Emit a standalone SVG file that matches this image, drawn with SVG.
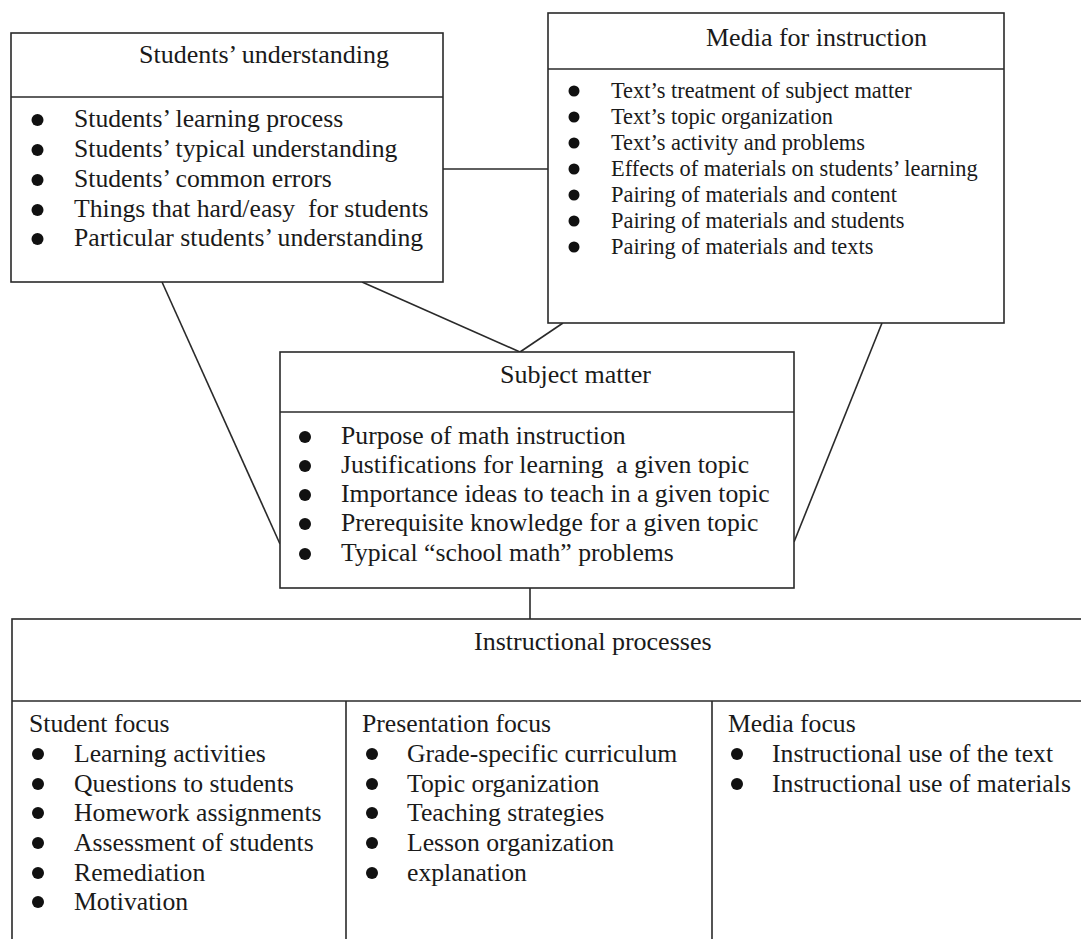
<svg xmlns="http://www.w3.org/2000/svg" width="1081" height="939" viewBox="0 0 1081 939">
<style>
.box{fill:#fff;stroke:#2a2a2a;stroke-width:1.6}
.ln{stroke:#2a2a2a;stroke-width:1.6;fill:none}
.t{font-family:"Liberation Serif","Times New Roman",serif;font-size:25.7px;fill:#1a1a1a}
.h{font-family:"Liberation Serif","Times New Roman",serif;font-size:26px;fill:#1a1a1a}
.s{font-family:"Liberation Serif","Times New Roman",serif;font-size:22.4px;fill:#1a1a1a}
.b{fill:#111}
</style>
<rect width="1081" height="939" fill="#fff"/>
<g id="connectors">
<line class="ln" x1="443" y1="169" x2="548" y2="169"/>
<line class="ln" x1="162" y1="282" x2="280" y2="544"/>
<line class="ln" x1="362" y1="282" x2="520" y2="352"/>
<line class="ln" x1="563" y1="323" x2="520" y2="352"/>
<line class="ln" x1="882" y1="323" x2="794" y2="542"/>
<line class="ln" x1="530" y1="588" x2="530" y2="619"/>
</g>
<g id="node-students-understanding">
<rect class="box" x="11" y="33" width="432" height="249"/>
<line class="ln" x1="11" y1="97" x2="443" y2="97"/>
<text class="h" x="139" y="63">Students’ understanding</text>
<circle class="b" cx="37.5" cy="120" r="6"/>
<circle class="b" cx="37.5" cy="150" r="6"/>
<circle class="b" cx="37.5" cy="180" r="6"/>
<circle class="b" cx="37.5" cy="210" r="6"/>
<circle class="b" cx="37.5" cy="239" r="6"/>
<text class="t" x="74" y="127">Students’ learning process</text>
<text class="t" x="74" y="157">Students’ typical understanding</text>
<text class="t" x="74" y="187">Students’ common errors</text>
<text class="t" x="74" y="217" xml:space="preserve">Things that hard/easy  for students</text>
<text class="t" x="74" y="246">Particular students’ understanding</text>
</g>
<g id="node-media-for-instruction">
<rect class="box" x="548" y="13" width="456" height="310"/>
<line class="ln" x1="548" y1="69" x2="1004" y2="69"/>
<text class="h" x="706" y="46">Media for instruction</text>
<circle class="b" cx="574" cy="91" r="5.5"/>
<circle class="b" cx="574" cy="117" r="5.5"/>
<circle class="b" cx="574" cy="143" r="5.5"/>
<circle class="b" cx="574" cy="169" r="5.5"/>
<circle class="b" cx="574" cy="195" r="5.5"/>
<circle class="b" cx="574" cy="221" r="5.5"/>
<circle class="b" cx="574" cy="247" r="5.5"/>
<text class="s" x="611" y="98">Text’s treatment of subject matter</text>
<text class="s" x="611" y="124">Text’s topic organization</text>
<text class="s" x="611" y="150">Text’s activity and problems</text>
<text class="s" x="611" y="176">Effects of materials on students’ learning</text>
<text class="s" x="611" y="202">Pairing of materials and content</text>
<text class="s" x="611" y="228">Pairing of materials and students</text>
<text class="s" x="611" y="254">Pairing of materials and texts</text>
</g>
<g id="node-subject-matter">
<rect class="box" x="280" y="352" width="514" height="236"/>
<line class="ln" x1="280" y1="412" x2="794" y2="412"/>
<text class="h" x="500" y="383">Subject matter</text>
<circle class="b" cx="305" cy="437" r="6"/>
<circle class="b" cx="305" cy="466" r="6"/>
<circle class="b" cx="305" cy="495" r="6"/>
<circle class="b" cx="305" cy="524" r="6"/>
<circle class="b" cx="305" cy="554" r="6"/>
<text class="t" x="341" y="444">Purpose of math instruction</text>
<text class="t" x="341" y="473" xml:space="preserve">Justifications for learning  a given topic</text>
<text class="t" x="341" y="502">Importance ideas to teach in a given topic</text>
<text class="t" x="341" y="531">Prerequisite knowledge for a given topic</text>
<text class="t" x="341" y="561">Typical “school math” problems</text>
</g>
<g id="node-instructional-processes">
<rect class="box" x="12" y="619" width="1075" height="330"/>
<line class="ln" x1="12" y1="701" x2="1087" y2="701"/>
<line class="ln" x1="346" y1="701" x2="346" y2="945"/>
<line class="ln" x1="712" y1="701" x2="712" y2="945"/>
<text class="h" x="474" y="650">Instructional processes</text>
<text class="t" x="29" y="732">Student focus</text>
<circle class="b" cx="38" cy="754" r="6"/>
<circle class="b" cx="38" cy="784" r="6"/>
<circle class="b" cx="38" cy="813" r="6"/>
<circle class="b" cx="38" cy="843" r="6"/>
<circle class="b" cx="38" cy="873" r="6"/>
<circle class="b" cx="38" cy="902" r="6"/>
<text class="t" x="74" y="762">Learning activities</text>
<text class="t" x="74" y="792">Questions to students</text>
<text class="t" x="74" y="821">Homework assignments</text>
<text class="t" x="74" y="851">Assessment of students</text>
<text class="t" x="74" y="881">Remediation</text>
<text class="t" x="74" y="910">Motivation</text>
<text class="t" x="362" y="732">Presentation focus</text>
<circle class="b" cx="372" cy="754" r="6"/>
<circle class="b" cx="372" cy="784" r="6"/>
<circle class="b" cx="372" cy="813" r="6"/>
<circle class="b" cx="372" cy="843" r="6"/>
<circle class="b" cx="372" cy="873" r="6"/>
<text class="t" x="407" y="762">Grade-specific curriculum</text>
<text class="t" x="407" y="792">Topic organization</text>
<text class="t" x="407" y="821">Teaching strategies</text>
<text class="t" x="407" y="851">Lesson organization</text>
<text class="t" x="407" y="881">explanation</text>
<text class="t" x="728" y="732">Media focus</text>
<circle class="b" cx="737" cy="754" r="6"/>
<circle class="b" cx="737" cy="784" r="6"/>
<text class="t" x="772" y="762">Instructional use of the text</text>
<text class="t" x="772" y="792">Instructional use of materials</text>
</g>
</svg>
